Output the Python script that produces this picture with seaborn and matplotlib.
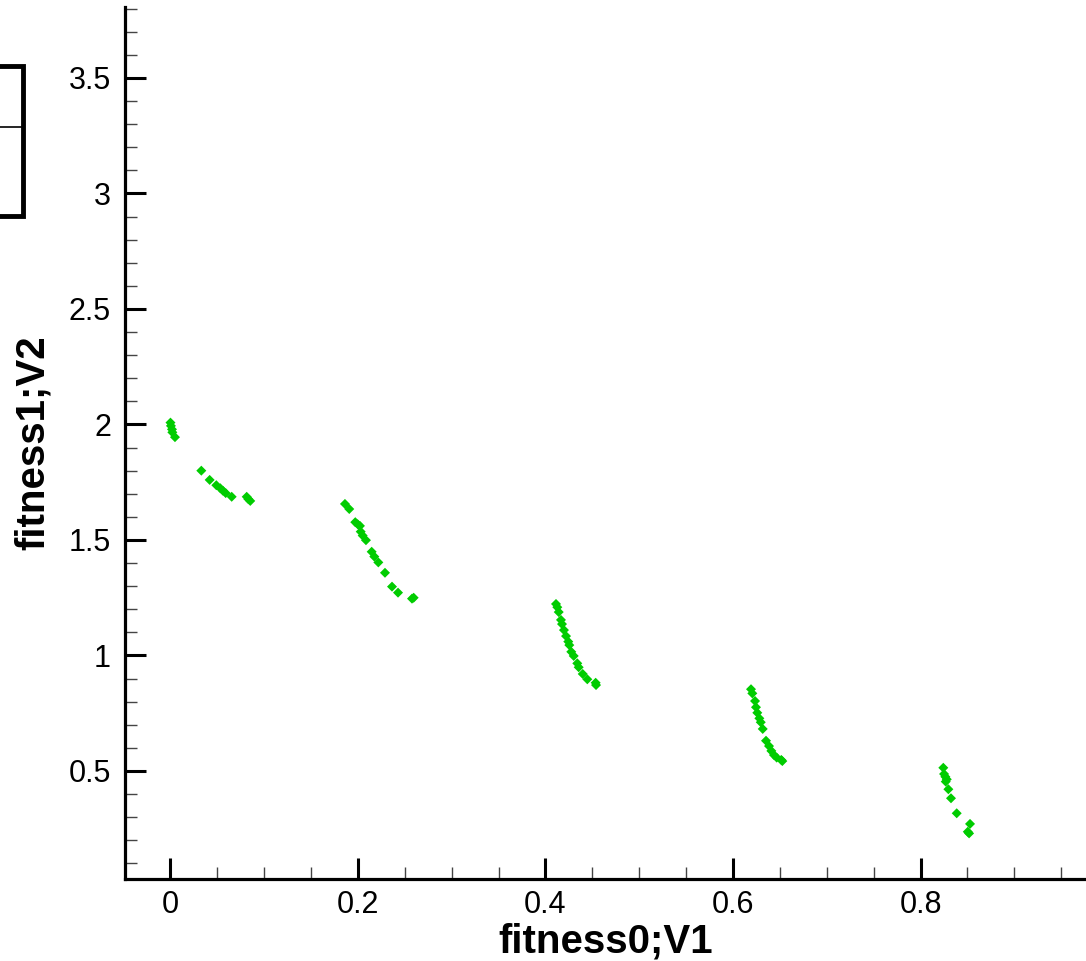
import numpy as np
import pandas as pd
import matplotlib
matplotlib.use("Agg")
import matplotlib.pyplot as plt
from matplotlib.ticker import MultipleLocator, FuncFormatter
from matplotlib.patches import Rectangle
from matplotlib.lines import Line2D
import seaborn as sns

# ---- data (fitness0;V1 vs fitness1;V2) ----
fitness0 = [
    0.0000, 0.0005, 0.0016, 0.0020, 0.0048,
    0.0329, 0.0418, 0.0489, 0.0531, 0.0560, 0.0589, 0.0653, 0.0813, 0.0830, 0.0851,
    0.1861, 0.1907, 0.1971, 0.1997, 0.2021, 0.2029, 0.2050, 0.2085, 0.2146, 0.2174,
    0.2217, 0.2288, 0.2363, 0.2427, 0.2576, 0.2594,
    0.4112, 0.4126, 0.4141, 0.4165, 0.4176, 0.4197, 0.4219, 0.4243, 0.4254, 0.4275,
    0.4301, 0.4339, 0.4354, 0.4397, 0.4446, 0.4535, 0.4539,
    0.6192, 0.6206, 0.6235, 0.6245, 0.6259, 0.6281, 0.6296, 0.6317, 0.6352, 0.6384,
    0.6409, 0.6437, 0.6466, 0.6515, 0.6526,
    0.8243, 0.8251, 0.8265, 0.8280, 0.8269, 0.8297, 0.8325, 0.8386, 0.8528, 0.8504, 0.8518,
]
fitness1 = [
    2.008, 1.994, 1.979, 1.966, 1.945,
    1.800, 1.760, 1.737, 1.724, 1.713, 1.703, 1.687, 1.687, 1.677, 1.669,
    1.656, 1.634, 1.577, 1.568, 1.561, 1.536, 1.519, 1.499, 1.449, 1.428,
    1.403, 1.358, 1.298, 1.272, 1.246, 1.250,
    1.223, 1.209, 1.188, 1.154, 1.136, 1.110, 1.084, 1.060, 1.045, 1.016,
    0.998, 0.966, 0.949, 0.920, 0.897, 0.882, 0.872,
    0.854, 0.836, 0.803, 0.776, 0.752, 0.728, 0.711, 0.682, 0.631, 0.608,
    0.587, 0.569, 0.558, 0.548, 0.543,
    0.514, 0.487, 0.475, 0.464, 0.454, 0.421, 0.382, 0.317, 0.271, 0.237, 0.230,
]
x_major_ticks = [0, 0.2, 0.4, 0.6, 0.8]
y_major_ticks = [0.5, 1, 1.5, 2, 2.5, 3, 3.5]
x_label = "fitness0;V1"
y_label = "fitness1;V2"

df = pd.DataFrame({x_label: fitness0, y_label: fitness1})

sns.set_style("ticks")
plt.rcParams["font.family"] = ["Liberation Sans", "DejaVu Sans"]
plt.rcParams["text.color"] = "black"
plt.rcParams["axes.labelcolor"] = "black"
plt.rcParams["xtick.color"] = "black"
plt.rcParams["ytick.color"] = "black"
plt.rcParams["xtick.labelcolor"] = "black"
plt.rcParams["ytick.labelcolor"] = "black"

W, H, DPI = 1086, 961, 100
fig = plt.figure(figsize=(W / DPI, H / DPI), dpi=DPI)
left, right_px, top_px, bottom_px = 125, 1086, 7, 879
ax = fig.add_axes([left / W, 1 - bottom_px / H, (right_px - left) / W, (bottom_px - top_px) / H])

sns.scatterplot(data=df, x=x_label, y=y_label, ax=ax, marker="D", s=26,
                color="#00cc00", edgecolor="none", linewidth=0, legend=False)

ax.set_xlim(-0.0485, 0.9765)
ax.set_ylim(0.0325, 3.807)
ax.set_xticks(x_major_ticks)
ax.set_yticks(y_major_ticks)
ax.xaxis.set_minor_locator(MultipleLocator(0.05))
ax.yaxis.set_minor_locator(MultipleLocator(0.1))
fmt = FuncFormatter(lambda v, p: f"{v:g}")
ax.xaxis.set_major_formatter(fmt)
ax.yaxis.set_major_formatter(fmt)

for s in ["top", "right"]:
    ax.spines[s].set_visible(False)
for s in ["left", "bottom"]:
    ax.spines[s].set_linewidth(2.3)
    ax.spines[s].set_color("black")

ax.tick_params(which="major", direction="in", length=15, width=2.2, labelsize=22,
               color="black", labelcolor="black", pad=8)
ax.tick_params(which="minor", direction="in", length=8.5, width=1.0, color="#444444")
ax.tick_params(axis="y", which="major", pad=10)

ax.set_xlabel(x_label, fontsize=29, fontweight="bold", labelpad=2, color="black")
ax.set_ylabel(y_label, fontsize=29, fontweight="bold", labelpad=12, color="black")

# cropped legend frame at top-left
fig.add_artist(Rectangle((-0.05, 1 - 216 / H), 0.05 + 23 / W, (216 - 66) / H,
                         transform=fig.transFigure, fill=False, edgecolor="black",
                         linewidth=3.5, clip_on=False))
fig.add_artist(Line2D([0, 23 / W], [1 - 127 / H, 1 - 127 / H],
                      transform=fig.transFigure, color="black", linewidth=1.2))

fig.savefig("out.png", dpi=DPI, facecolor="white")
